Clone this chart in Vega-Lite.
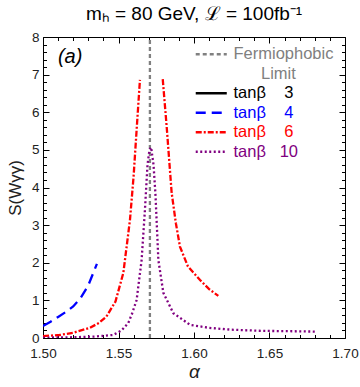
{
  "$schema": "https://vega.github.io/schema/vega-lite/v6.json",
  "width": 302,
  "height": 301,
  "autosize": "none",
  "padding": {"left": 43, "top": 37, "right": 15, "bottom": 49},
  "background": "white",
  "config": {"view": {"stroke": "black", "strokeWidth": 1}, "font": "Liberation Sans"},
  "title": {"text": "mₕ = 80 GeV, ℒ = 100fb⁻¹", "fontSize": 19, "fontWeight": "normal", "font": "Liberation Sans", "color": "black", "anchor": "middle", "offset": 6},
  "data": {"values": [
    {"s": "FL", "b": 0, "a": 1.5708, "v": 0},
    {"s": "FL", "b": 0, "a": 1.5708, "v": 8},
    {"s": "4", "b": 0, "a": 1.5, "v": 0.32},
    {"s": "4", "b": 0, "a": 1.505, "v": 0.43},
    {"s": "4", "b": 0, "a": 1.51, "v": 0.56},
    {"s": "4", "b": 0, "a": 1.515, "v": 0.69},
    {"s": "4", "b": 0, "a": 1.52, "v": 0.84},
    {"s": "4", "b": 0, "a": 1.525, "v": 1.07},
    {"s": "4", "b": 0, "a": 1.53, "v": 1.4},
    {"s": "4", "b": 0, "a": 1.5357, "v": 1.97},
    {"s": "6", "b": 1, "a": 1.5, "v": 0.05},
    {"s": "6", "b": 1, "a": 1.511, "v": 0.08},
    {"s": "6", "b": 1, "a": 1.52, "v": 0.14},
    {"s": "6", "b": 1, "a": 1.531, "v": 0.27},
    {"s": "6", "b": 1, "a": 1.537, "v": 0.4},
    {"s": "6", "b": 1, "a": 1.542, "v": 0.57},
    {"s": "6", "b": 1, "a": 1.548, "v": 0.97},
    {"s": "6", "b": 1, "a": 1.5532, "v": 1.73},
    {"s": "6", "b": 1, "a": 1.5576, "v": 3.14},
    {"s": "6", "b": 1, "a": 1.56, "v": 4.3},
    {"s": "6", "b": 1, "a": 1.562, "v": 5.53},
    {"s": "6", "b": 1, "a": 1.5642, "v": 6.86},
    {"s": "6", "b": 2, "a": 1.5793, "v": 6.88},
    {"s": "6", "b": 2, "a": 1.5819, "v": 5.62},
    {"s": "6", "b": 2, "a": 1.5852, "v": 3.86},
    {"s": "6", "b": 2, "a": 1.588, "v": 3.05},
    {"s": "6", "b": 2, "a": 1.5907, "v": 2.43},
    {"s": "6", "b": 2, "a": 1.596, "v": 1.9},
    {"s": "6", "b": 2, "a": 1.604, "v": 1.54},
    {"s": "6", "b": 2, "a": 1.61, "v": 1.3},
    {"s": "6", "b": 2, "a": 1.6161, "v": 1.12},
    {"s": "10", "b": 0, "a": 1.5, "v": 0.01},
    {"s": "10", "b": 0, "a": 1.52, "v": 0.02},
    {"s": "10", "b": 0, "a": 1.535, "v": 0.04},
    {"s": "10", "b": 0, "a": 1.5464, "v": 0.08},
    {"s": "10", "b": 0, "a": 1.552, "v": 0.2},
    {"s": "10", "b": 0, "a": 1.5565, "v": 0.4},
    {"s": "10", "b": 0, "a": 1.559, "v": 0.65},
    {"s": "10", "b": 0, "a": 1.562, "v": 1.01},
    {"s": "10", "b": 0, "a": 1.5653, "v": 2.07},
    {"s": "10", "b": 0, "a": 1.5675, "v": 3.4},
    {"s": "10", "b": 0, "a": 1.5692, "v": 4.6},
    {"s": "10", "b": 0, "a": 1.5705, "v": 5.0},
    {"s": "10", "b": 0, "a": 1.5716, "v": 5.07},
    {"s": "10", "b": 0, "a": 1.5732, "v": 4.6},
    {"s": "10", "b": 0, "a": 1.5745, "v": 3.8},
    {"s": "10", "b": 0, "a": 1.5764, "v": 2.07},
    {"s": "10", "b": 0, "a": 1.5797, "v": 1.2},
    {"s": "10", "b": 0, "a": 1.5863, "v": 0.66},
    {"s": "10", "b": 0, "a": 1.5974, "v": 0.35},
    {"s": "10", "b": 0, "a": 1.61, "v": 0.27},
    {"s": "10", "b": 0, "a": 1.625, "v": 0.22},
    {"s": "10", "b": 0, "a": 1.645, "v": 0.19},
    {"s": "10", "b": 0, "a": 1.665, "v": 0.18},
    {"s": "10", "b": 0, "a": 1.681, "v": 0.17}
  ]},
  "layer": [
    {
      "mark": {"type": "line", "strokeWidth": 2.3, "strokeCap": "butt", "clip": true},
      "encoding": {
        "x": {"field": "a", "type": "quantitative", "scale": {"domain": [1.5, 1.7], "nice": false, "zero": false},
          "axis": {"orient": "bottom", "values": [1.5, 1.55, 1.6, 1.65, 1.7], "format": ".2f", "tickSize": -6, "tickColor": "black", "domain": false, "grid": false, "labelFontSize": 13.5, "labelColor": "#222", "labelPadding": 14, "title": "α", "titleFontSize": 19, "titleFontStyle": "italic", "titleFontWeight": "normal", "titleColor": "#222", "titlePadding": 3, "labelFlush": false}},
        "y": {"field": "v", "type": "quantitative", "scale": {"domain": [0, 8], "nice": false},
          "axis": {"orient": "left", "values": [0, 1, 2, 3, 4, 5, 6, 7, 8], "tickSize": -6, "tickColor": "black", "domain": false, "grid": false, "labelFontSize": 13.5, "labelColor": "#222", "labelPadding": 10, "title": "S(Wγγ)", "titleFontSize": 17, "titleFontWeight": "normal", "titleColor": "#222", "titlePadding": 7, "labelFlush": false}},
        "detail": {"field": "b"},
        "color": {"field": "s", "type": "nominal",
          "scale": {"domain": ["FL", "FL2", "3", "4", "6", "10"], "range": ["#808080", "transparent", "black", "#0000ff", "#ff0000", "#800080"]},
          "legend": {"title": null, "orient": "none", "legendX": 160, "legendY": 9, "symbolType": "M-3,0H3", "symbolSize": 107, "symbolStrokeWidth": 2.5, "labelFontSize": 16.5, "labelOffset": 14, "rowPadding": 2.5, "labelLimit": 300,
            "labelExpr": "datum.value == 'FL' ? 'Fermiophobic' : datum.value == 'FL2' ? '\u200b\u00a0\u00a0\u00a0\u00a0\u00a0\u00a0Limit' : (datum.value == '10' ? 'tanβ\u00a0\u00a0\u00a010' : 'tanβ\u00a0\u00a0\u00a0\u00a0' + datum.value)",
            "encode": {"labels": {"update": {"fill": {"signal": "datum.value == 'FL2' ? '#808080' : scale('color', datum.value)"}}}}}},
        "strokeDash": {"field": "s", "type": "nominal",
          "scale": {"domain": ["FL", "FL2", "3", "4", "6", "10"], "range": [[4, 3], [1, 0], [1, 0], [10, 6], [6, 2, 2, 2], [2, 2.5]]},
          "legend": {"title": null, "orient": "none", "legendX": 160, "legendY": 9, "symbolType": "M-3,0H3", "symbolSize": 107, "symbolStrokeWidth": 2.5, "labelFontSize": 16.5, "labelOffset": 14, "rowPadding": 2.5, "labelLimit": 300,
            "labelExpr": "datum.value == 'FL' ? 'Fermiophobic' : datum.value == 'FL2' ? '\u200b\u00a0\u00a0\u00a0\u00a0\u00a0\u00a0Limit' : (datum.value == '10' ? 'tanβ\u00a0\u00a0\u00a010' : 'tanβ\u00a0\u00a0\u00a0\u00a0' + datum.value)",
            "encode": {"labels": {"update": {"fill": {"signal": "datum.value == 'FL2' ? '#808080' : scale('color', datum.value)"}}}}}}
      }
    },
    {
      "data": {"values": [{"t": "(a)"}]},
      "mark": {"type": "text", "fontSize": 20, "fontStyle": "italic", "align": "center", "baseline": "middle", "color": "black"},
      "encoding": {
        "x": {"datum": 1.518, "type": "quantitative", "axis": null},
        "y": {"datum": 7.47, "type": "quantitative", "axis": null},
        "text": {"field": "t"}
      }
    },
    {
      "mark": {"type": "point", "opacity": 0},
      "encoding": {
        "x": {"field": "a", "type": "quantitative", "axis": {"orient": "bottom", "values": [1.51, 1.52, 1.53, 1.54, 1.56, 1.57, 1.58, 1.59, 1.61, 1.62, 1.63, 1.64, 1.66, 1.67, 1.68, 1.69], "tickSize": -3.5, "tickColor": "black", "labels": false, "domain": false, "grid": false, "title": null}},
        "y": {"field": "v", "type": "quantitative", "axis": {"orient": "left", "values": [0.2, 0.4, 0.6, 0.8, 1.2, 1.4, 1.6, 1.8, 2.2, 2.4, 2.6, 2.8, 3.2, 3.4, 3.6, 3.8, 4.2, 4.4, 4.6, 4.8, 5.2, 5.4, 5.6, 5.8, 6.2, 6.4, 6.6, 6.8, 7.2, 7.4, 7.6, 7.8], "tickSize": -3.5, "tickColor": "black", "labels": false, "domain": false, "grid": false, "title": null}}
      }
    },
    {
      "mark": {"type": "point", "opacity": 0},
      "encoding": {
        "x": {"field": "a", "type": "quantitative", "axis": {"orient": "top", "values": [1.5, 1.55, 1.6, 1.65, 1.7], "tickSize": -6, "tickColor": "black", "labels": false, "domain": false, "grid": false, "title": null}},
        "y": {"field": "v", "type": "quantitative", "axis": {"orient": "right", "values": [0, 1, 2, 3, 4, 5, 6, 7, 8], "tickSize": -6, "tickColor": "black", "labels": false, "domain": false, "grid": false, "title": null}}
      }
    },
    {
      "mark": {"type": "point", "opacity": 0},
      "encoding": {
        "x": {"field": "a", "type": "quantitative", "axis": {"orient": "top", "values": [1.51, 1.52, 1.53, 1.54, 1.56, 1.57, 1.58, 1.59, 1.61, 1.62, 1.63, 1.64, 1.66, 1.67, 1.68, 1.69], "tickSize": -3.5, "tickColor": "black", "labels": false, "domain": false, "grid": false, "title": null}},
        "y": {"field": "v", "type": "quantitative", "axis": {"orient": "right", "values": [0.2, 0.4, 0.6, 0.8, 1.2, 1.4, 1.6, 1.8, 2.2, 2.4, 2.6, 2.8, 3.2, 3.4, 3.6, 3.8, 4.2, 4.4, 4.6, 4.8, 5.2, 5.4, 5.6, 5.8, 6.2, 6.4, 6.6, 6.8, 7.2, 7.4, 7.6, 7.8], "tickSize": -3.5, "tickColor": "black", "labels": false, "domain": false, "grid": false, "title": null}}
      }
    }
  ],
  "resolve": {"axis": {"x": "independent", "y": "independent"}}
}
